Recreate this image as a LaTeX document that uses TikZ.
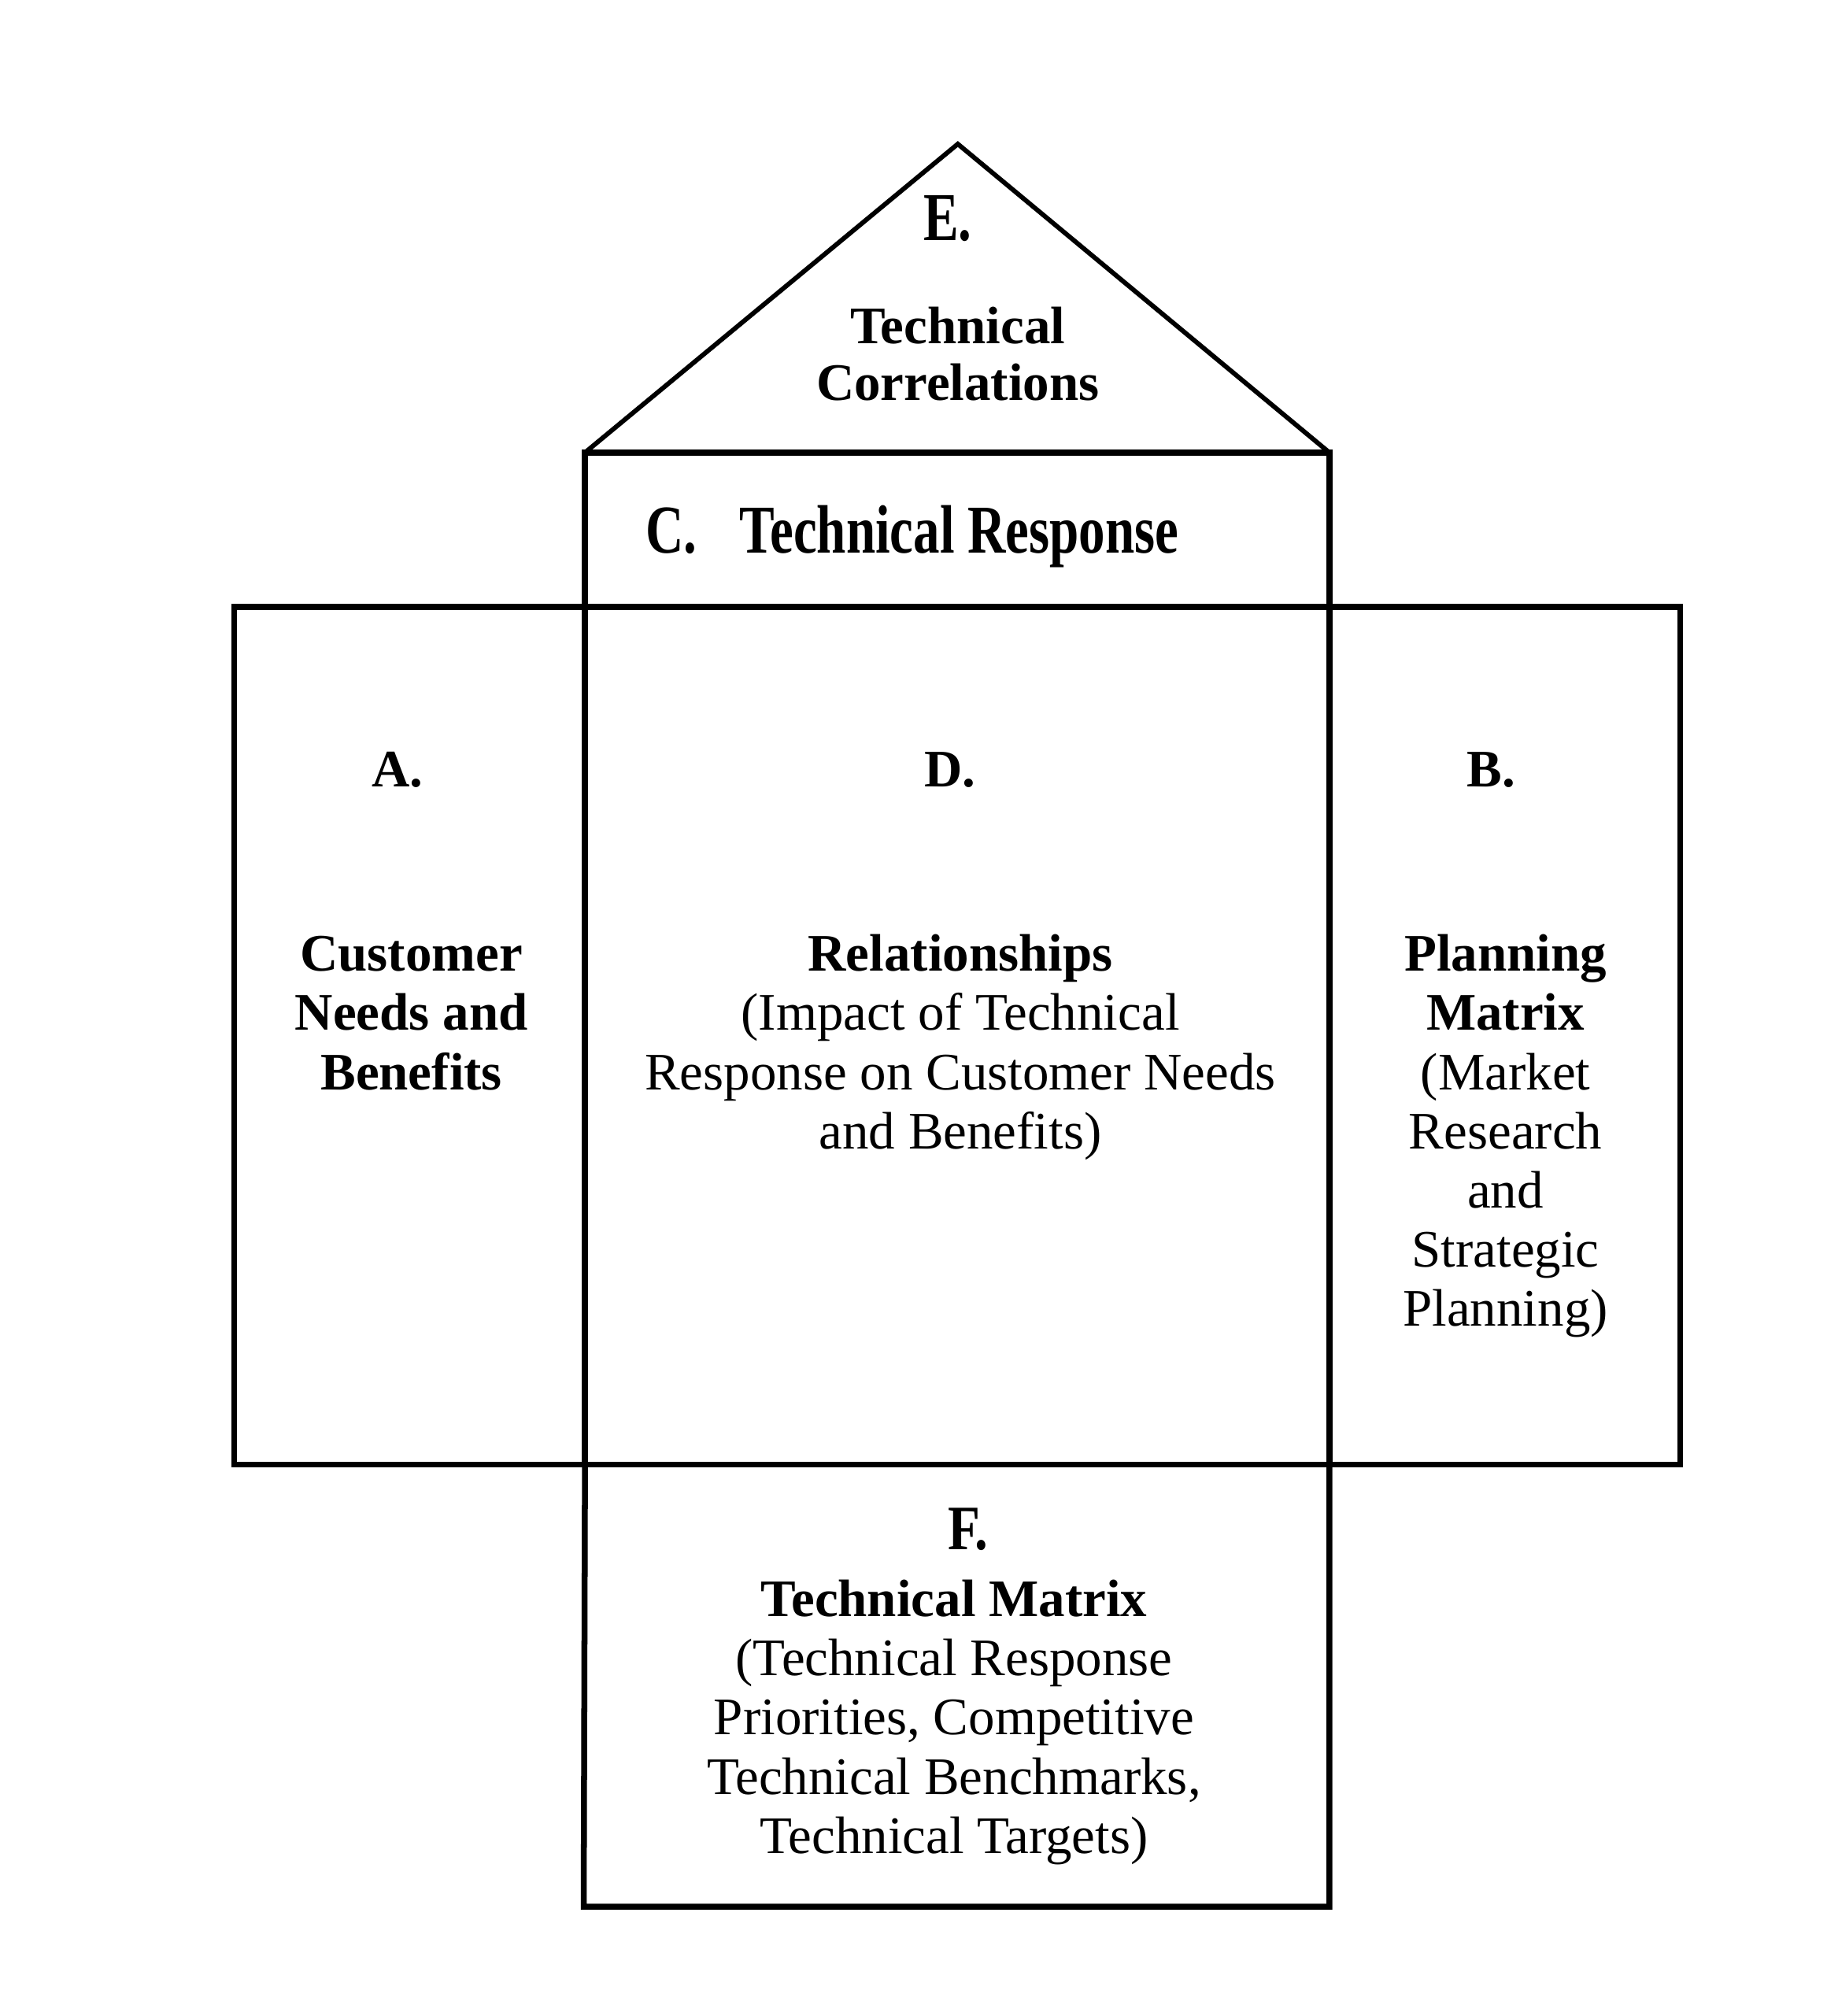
\documentclass[tikz,border=0pt]{standalone}
\usepackage{fontspec}
\setmainfont{Liberation Serif}
\begin{document}
\begin{tikzpicture}[x=0.5pt,y=-0.5pt,
  frame/.style={line width=2.3pt, line join=miter},
  rooftop/.style={line width=1.8pt, line join=miter},
  block/.style={inner sep=0pt, anchor=north, align=center, font=\fontsize{20.5}{23}\selectfont},
  letter/.style={inner sep=0pt, anchor=base, font=\fontsize{20.5}{23}\selectfont\bfseries}]
\useasboundingbox (0,0) rectangle (1421,1568);
% coordinates
\coordinate (apex) at (745,112);
\coordinate (rl) at (455,352);
\coordinate (rr) at (1034,352);
\coordinate (ml) at (182,472);
\coordinate (mr) at (1307,1139);
\coordinate (cl) at (455,472);
\coordinate (cr) at (1034,472);
\coordinate (bl) at (455,1139);
\coordinate (br) at (1034,1139);
\coordinate (fl) at (454,1483);
\coordinate (fr) at (1034,1483);
% roof
\draw[rooftop] (rl) -- (apex) -- (rr);
% C box
\draw[frame] (rl) -- (rr) -- (cr) -- (cl) -- cycle;
% main rectangle
\draw[frame] (ml) rectangle (mr);
\draw[frame] (cl) -- (bl);
\draw[frame] (cr) -- (br);
% F box
\draw[frame] (bl) -- (fl) -- (fr) -- (br);
% texts
\node[letter] (E) at (737,187) {\scalebox{1}[1.3]{E.}};
\node[block, font=\fontsize{20.5}{22}\selectfont\bfseries] (Etxt) at (745,237) {\rule{0pt}{15pt}Technical\\Correlations};
\node[letter, anchor=base west] (C) at (502,430) {\scalebox{1}[1.3]{C.}};
\node[letter, anchor=base west] (Ctxt) at (575,430) {\scalebox{1}[1.3]{Technical Response}};
\node[letter] (A) at (309,612) {A.};
\node[letter] (D) at (739,612) {D.};
\node[letter] (B) at (1160,612) {B.};
\node[block, font=\fontsize{20.5}{23}\selectfont\bfseries] (Atxt) at (320,725) {\rule{0pt}{15pt}Customer\\Needs and\\Benefits};
\node[block] (Dtxt) at (747,725) {\rule{0pt}{15pt}\textbf{Relationships}\\(Impact of Technical\\Response on Customer Needs\\and Benefits)};
\node[block] (Btxt) at (1171,725) {\rule{0pt}{15pt}\textbf{Planning}\\\textbf{Matrix}\\(Market\\Research\\and\\Strategic\\Planning)};
\node[letter] (F) at (753,1205) {\scalebox{1}[1.2]{F.}};
\node[block] (Ftxt) at (742,1227) {\rule{0pt}{15pt}\textbf{Technical Matrix}\\(Technical Response\\Priorities, Competitive\\Technical Benchmarks,\\Technical Targets)};
\end{tikzpicture}
\end{document}
